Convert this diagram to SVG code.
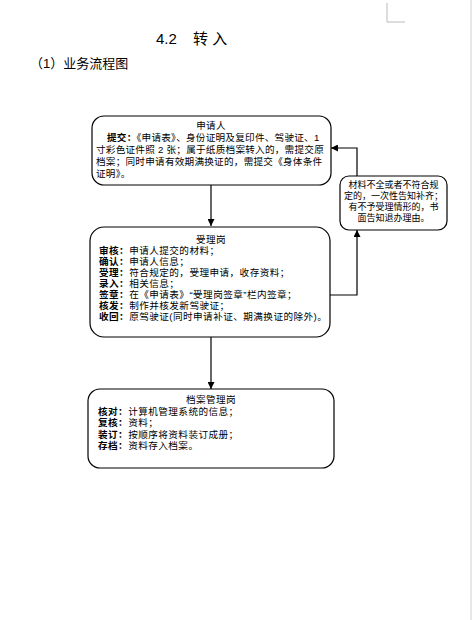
<svg xmlns="http://www.w3.org/2000/svg" width="472" height="620" viewBox="0 0 472 620">
<style>
  text { font-family: "Liberation Sans", "Noto Sans CJK SC", sans-serif; fill: #000; }
  .box { fill: #fff; stroke: #000; stroke-width: 1.2; }
  .t { font-size: 9.6px; letter-spacing: 0.45px; }
  .t2 { font-size: 9.6px; letter-spacing: 0.25px; }
  .s { font-size: 9px; text-anchor: middle; }
  .c { text-anchor: middle; }
  .b { font-weight: bold; }
  .ln { stroke: #000; stroke-width: 1.2; fill: none; }
</style>
<defs>
  <marker id="ah" viewBox="0 0 10 10" refX="10" refY="5" markerWidth="7" markerHeight="7" orient="auto-start-reverse" markerUnits="userSpaceOnUse">
    <path d="M0,0 L10,5 L0,10 z" fill="#000"/>
  </marker>
</defs>
<rect width="472" height="620" fill="#fff"/>
<line x1="471" y1="0" x2="471" y2="620" stroke="#d0d0d0" stroke-width="1"/>
<path d="M387,3 V22 H405" stroke="#bbb" stroke-width="1" fill="none"/>

<text x="156" y="44" font-size="15">4.2</text>
<text x="193" y="44" font-size="15">转 入</text>
<text x="30" y="68" font-size="13">（1）业务流程图</text>

<g id="connectors">
  <line class="ln" x1="211" y1="185" x2="211" y2="226" marker-end="url(#ah)"/>
  <line class="ln" x1="211" y1="337" x2="211" y2="389" marker-end="url(#ah)"/>
  <polyline class="ln" points="330,295 357,295 357,230" marker-end="url(#ah)"/>
  <polyline class="ln" points="357,176 357,148 331,148" marker-end="url(#ah)"/>
</g>

<g id="node-applicant">
  <rect class="box" x="92" y="116" width="239" height="69" rx="12"/>
  <text class="t2 c" x="211" y="129">申请人</text>
  <text class="t2" x="107" y="141"><tspan class="b">提交：</tspan>《申请表》、身份证明及复印件、驾驶证、1</text>
  <text class="t2" x="96" y="153">寸彩色证件照 2 张；属于纸质档案转入的，需提交原</text>
  <text class="t2" x="96" y="165">档案；同时申请有效期满换证的，需提交《身体条件</text>
  <text class="t2" x="96" y="177">证明》。</text>
</g>

<g id="node-accept">
  <rect class="box" x="90" y="227" width="240" height="110" rx="14"/>
  <text class="t c" x="211" y="243">受理岗</text>
  <text class="t" x="99" y="254"><tspan class="b">审核：</tspan>申请人提交的材料；</text>
  <text class="t" x="99" y="265"><tspan class="b">确认：</tspan>申请人信息；</text>
  <text class="t" x="99" y="276"><tspan class="b">受理：</tspan>符合规定的，受理申请，收存资料；</text>
  <text class="t" x="99" y="287"><tspan class="b">录入：</tspan>相关信息；</text>
  <text class="t" x="99" y="298"><tspan class="b">签章：</tspan>在《申请表》“受理岗签章”栏内签章；</text>
  <text class="t" x="99" y="309"><tspan class="b">核发：</tspan>制作并核发新驾驶证；</text>
  <text class="t" x="99" y="320"><tspan class="b">收回：</tspan>原驾驶证(同时申请补证、期满换证的除外)。</text>
</g>

<g id="node-archive">
  <rect class="box" x="88" y="389" width="246" height="79" rx="12"/>
  <text class="t c" x="211" y="403">档案管理岗</text>
  <text class="t" x="98" y="414.5"><tspan class="b">核对：</tspan>计算机管理系统的信息；</text>
  <text class="t" x="98" y="426"><tspan class="b">复核：</tspan>资料；</text>
  <text class="t" x="98" y="437.5"><tspan class="b">装订：</tspan>按顺序将资料装订成册；</text>
  <text class="t" x="98" y="449"><tspan class="b">存档：</tspan>资料存入档案。</text>
</g>

<g id="node-reject">
  <rect class="box" x="340" y="176" width="107" height="54" rx="9"/>
  <text class="s" x="393.5" y="187.5">材料不全或者不符合规</text>
  <text class="s" x="393.5" y="198.5">定的，一次性告知补齐；</text>
  <text class="s" x="393.5" y="209.5">有不予受理情形的，书</text>
  <text class="s" x="393.5" y="220.5">面告知退办理由。</text>
</g>
</svg>
